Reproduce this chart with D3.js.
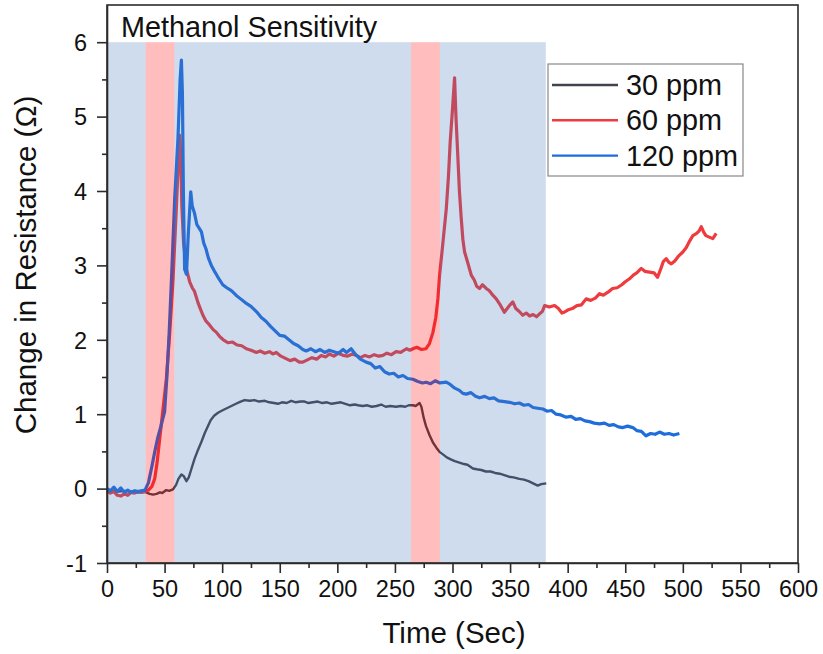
<!DOCTYPE html>
<html>
<head>
<meta charset="utf-8">
<script src="https://cdn.jsdelivr.net/npm/d3@7"></script>
<style>
  body { margin: 0; background: #fff; }
  svg text { font-family: Arial, "Liberation Sans", sans-serif; fill: #111; }
</style>
</head>
<body>
<svg id="chart" width="823" height="654"></svg>
<script>
// data: [time (s), change in resistance (ohm)]
const ppm30 = [[0,-0.02],[5,-0.03],[10,-0.04],[15,-0.03],[20,-0.04],[25,-0.03],[30,-0.03],[34,-0.05],[37,-0.07],[40,-0.08],[43,-0.07],[46,-0.05],[48,-0.06],[51.5,-0.02],[54,-0.03],[57.3,-0.01],[60,0.05],[62,0.13],[64.6,0.19],[66.5,0.17],[69,0.10],[71,0.15],[73,0.25],[76,0.40],[79,0.52],[82,0.63],[85,0.75],[87.7,0.84],[90,0.92],[93,0.98],[96.4,1.02],[100,1.05],[104,1.08],[108,1.11],[112,1.14],[116,1.17],[119.5,1.19],[124,1.18],[128,1.19],[132,1.17],[137,1.18],[141,1.16],[145,1.15],[148.4,1.14],[152,1.16],[156,1.15],[160,1.18],[164,1.16],[168,1.17],[171.6,1.17],[175,1.15],[178.8,1.16],[183,1.17],[187,1.15],[191,1.16],[195,1.14],[199,1.15],[203,1.16],[207,1.14],[211,1.12],[215,1.13],[218,1.12],[222,1.11],[226,1.12],[230,1.10],[234,1.11],[238,1.13],[242,1.10],[246,1.11],[251,1.10],[255,1.11],[259,1.10],[262,1.12],[265.6,1.12],[268,1.11],[271.4,1.15],[273,1.10],[275,0.95],[277,0.84],[280,0.72],[283,0.62],[286,0.55],[289,0.49],[291.7,0.46],[295,0.42],[299,0.39],[302,0.37],[306,0.35],[310,0.33],[313,0.32],[317.7,0.27],[321,0.26],[325,0.25],[329,0.23],[333,0.23],[337,0.21],[341,0.20],[345,0.18],[349,0.16],[353,0.15],[358,0.13],[362,0.12],[366,0.10],[370,0.07],[374,0.04],[377,0.06],[381.4,0.07]];

const ppm60 = [[0,-0.03],[3,-0.06],[6,-0.04],[9,-0.09],[12,-0.10],[15,-0.07],[18,-0.09],[21,-0.05],[24,-0.06],[27,-0.04],[30,-0.05],[33,-0.04],[36,-0.02],[39,0.03],[41.4,0.13],[43.5,0.35],[45.7,0.66],[48.5,1.05],[51.5,1.47],[54.5,2.1],[57.3,2.8],[60,3.7],[62,4.4],[63,4.75],[64,4.5],[65,3.8],[66.5,3.3],[69,2.95],[71.8,2.78],[74,2.7],[76,2.65],[79,2.5],[81,2.42],[83.3,2.33],[86,2.25],[89,2.2],[92,2.14],[95,2.10],[98,2.04],[101,2.0],[105,1.96],[109,1.97],[113,1.93],[117,1.92],[121,1.88],[125,1.86],[129.7,1.83],[133,1.85],[137,1.82],[141,1.84],[144,1.81],[147,1.83],[151,1.78],[155,1.75],[159,1.72],[163,1.74],[167,1.70],[170,1.70],[174,1.73],[178,1.76],[182,1.74],[186,1.79],[190,1.77],[193,1.81],[197,1.78],[201,1.82],[205,1.79],[209,1.78],[213,1.81],[216.5,1.79],[220,1.76],[224,1.79],[228,1.77],[232,1.80],[236,1.78],[239.6,1.79],[243,1.82],[247,1.80],[251,1.84],[255,1.83],[260,1.88],[263,1.86],[265.6,1.88],[269,1.90],[273,1.87],[277,1.88],[280,1.95],[283,2.10],[285.5,2.3],[287.3,2.55],[288.8,2.87],[291,3.2],[294.6,3.76],[296.5,4.2],[298,4.66],[300,5.1],[301.8,5.52],[303,5.0],[304.7,4.44],[306,4.0],[307.6,3.63],[309,3.35],[310.5,3.18],[313,3.05],[316.3,2.87],[319,2.8],[321,2.72],[323.5,2.69],[326,2.74],[329.3,2.69],[332,2.66],[335,2.60],[338,2.55],[341,2.48],[345,2.37],[348,2.43],[350,2.47],[352.4,2.51],[355,2.42],[358,2.38],[361,2.33],[364,2.36],[367,2.32],[370,2.34],[373,2.31],[375.6,2.35],[378,2.38],[380,2.46],[384,2.44],[388.6,2.46],[392,2.42],[395,2.36],[397,2.37],[400,2.40],[404,2.42],[408,2.46],[412,2.47],[416,2.55],[420,2.53],[424,2.56],[427.7,2.62],[431,2.60],[435,2.64],[439,2.69],[443,2.70],[447,2.74],[450,2.78],[453.7,2.82],[457,2.87],[460,2.90],[463.9,2.96],[467,2.92],[471,2.91],[475,2.90],[478,2.84],[481,2.96],[483,3.05],[485.6,3.09],[488,3.04],[490,3.02],[493,3.06],[496,3.12],[500,3.18],[503,3.24],[506,3.33],[508.7,3.40],[512,3.43],[514,3.46],[516,3.52],[518,3.45],[520,3.40],[523,3.38],[526,3.36],[529,3.43]];

const ppm120 = [[0,0.00],[3,-0.03],[6,0.02],[9,-0.04],[12,0.01],[15,-0.05],[18,-0.02],[21,-0.05],[24,-0.03],[27,-0.05],[30,-0.03],[33,-0.02],[36,0.08],[39,0.30],[41.4,0.49],[44,0.68],[47,0.85],[50,1.03],[52,1.5],[54,2.1],[56,2.82],[58.8,3.9],[61.6,4.7],[63.5,5.5],[64.6,5.76],[65.5,5.3],[66.3,4.0],[67.4,2.95],[69,2.88],[70.5,3.4],[72.7,3.99],[74,3.8],[76,3.7],[78,3.55],[80,3.5],[82,3.45],[84,3.3],[86,3.22],[88,3.1],[90.6,3.0],[93,2.93],[96,2.85],[98,2.8],[100.5,2.74],[104,2.7],[108,2.66],[112,2.6],[116,2.55],[120,2.5],[125,2.45],[129.7,2.38],[134,2.3],[138,2.25],[142,2.18],[146,2.12],[150,2.06],[154,2.05],[158,2.0],[162,1.95],[166,1.92],[170,1.87],[173,1.85],[177,1.88],[181,1.84],[185,1.87],[189,1.83],[193,1.86],[197,1.84],[201,1.82],[205,1.87],[208,1.83],[212,1.88],[216,1.80],[220,1.74],[225,1.70],[229,1.68],[233,1.62],[237,1.64],[241,1.57],[245,1.54],[249,1.55],[253,1.50],[257,1.52],[261,1.48],[265.6,1.47],[270,1.44],[274,1.42],[277,1.43],[281,1.41],[285,1.45],[289,1.42],[294.6,1.43],[298,1.40],[302,1.35],[306,1.32],[309,1.28],[312,1.27],[316,1.29],[320,1.24],[323.5,1.22],[328,1.24],[332,1.21],[336,1.22],[340,1.18],[345,1.17],[349.6,1.16],[354,1.14],[358,1.15],[362,1.12],[366,1.13],[370,1.09],[374,1.08],[378.5,1.07],[382,1.04],[386,1.05],[390,1.00],[394,0.99],[398.8,0.96],[403,0.97],[407,0.93],[411,0.94],[415,0.91],[419,0.90],[423,0.88],[427.7,0.87],[432,0.88],[436,0.85],[440,0.86],[444,0.83],[448,0.82],[452,0.84],[456.6,0.82],[460,0.78],[464,0.77],[468,0.71],[472,0.74],[476,0.73],[479.8,0.76],[484,0.73],[488,0.74],[492,0.72],[497,0.74]];

const seriesNames = ['30 ppm', '60 ppm', '120 ppm'];
const seriesColors = ['#41444c', '#ee3b3f', '#1f6ddc'];

// exposure windows (pink) and recovery windows (blue)
const gasOn = [[33.5, 58.5], [264, 289]];
const airOn = [[0, 33.5], [58.5, 264], [289, 381]];

const xTicks = d3.range(0, 601, 50);
const yTicks = d3.range(-1, 7, 1);

const svg = d3.select('#chart');
const x = d3.scaleLinear().domain([0, 600]).range([107, 798]);
const y = d3.scaleLinear().domain([-1, 6.5]).range([563, 5]);

// lines first, the shading sits on top as a translucent overlay
const line = d3.line().x(d => x(d[0])).y(d => y(d[1]));
const allSeries = [ppm30, ppm60, ppm120];

svg.append('g').selectAll('path')
    .data(allSeries)
    .join('path')
    .attr('d', line)
    .attr('fill', 'none')
    .attr('stroke', (d, i) => seriesColors[i])
    .attr('stroke-width', (d, i) => i == 0 ? 2.4 : 3.2)
    .attr('stroke-linejoin', 'round');

svg.append('g').selectAll('rect')
    .data(airOn)
    .join('rect')
    .attr('x', d => x(d[0]))
    .attr('width', d => x(d[1]) - x(d[0]))
    .attr('y', y(6))
    .attr('height', y(-1) - y(6))
    .attr('fill', '#4678be')
    .attr('fill-opacity', 0.26);

svg.append('g').selectAll('rect')
    .data(gasOn)
    .join('rect')
    .attr('x', d => x(d[0]))
    .attr('width', d => x(d[1]) - x(d[0]))
    .attr('y', y(6))
    .attr('height', y(-1) - y(6))
    .attr('fill', '#ff0000')
    .attr('fill-opacity', 0.26);

// frame
svg.append('rect')
    .attr('x', 107).attr('y', 5)
    .attr('width', 798 - 107).attr('height', 563 - 5)
    .attr('fill', 'none')
    .attr('stroke', '#2b2b2b')
    .attr('stroke-width', 1.6);

// axes with minor ticks
let xAxis = svg.append('g').attr('transform', 'translate(0,563)')
    .call(d3.axisBottom(x).tickValues(xTicks).tickSize(10).tickSizeOuter(0));
svg.append('g').attr('transform', 'translate(0,563)')
    .call(d3.axisBottom(x).tickValues(d3.range(25, 600, 50)).tickSize(5).tickFormat(''))
    .call(g => g.select('.domain').remove());

let yAxis = svg.append('g').attr('transform', 'translate(107,0)')
    .call(d3.axisLeft(y).tickValues(yTicks).tickSize(10).tickSizeOuter(0).tickFormat(d => `${d}`));
svg.append('g').attr('transform', 'translate(107,0)')
    .call(d3.axisLeft(y).tickValues(d3.range(-0.5, 6, 1)).tickSize(5).tickFormat(''))
    .call(g => g.select('.domain').remove());

svg.selectAll('.domain').attr('stroke', '#2b2b2b').attr('stroke-width', 1.6);
svg.selectAll('.tick line').attr('stroke', '#2b2b2b').attr('stroke-width', 1.6);

xAxis.selectAll('text').attr('font-size', 23.5).attr('y', 17).attr('dy', '0.71em').attr('fill', '#111');
yAxis.selectAll('text').attr('font-size', 23.5).attr('x', -20).attr('dy', '0.35em').attr('fill', '#111');

// titles
svg.append('text')
    .attr('x', 454).attr('y', 643)
    .attr('text-anchor', 'middle')
    .attr('font-size', 29.5)
    .text('Time (Sec)');

svg.append('text')
    .attr('transform', 'translate(36,265) rotate(-90)')
    .attr('text-anchor', 'middle')
    .attr('font-size', 29.5)
    .text('Change in Resistance (Ω)');

svg.append('text')
    .attr('x', 121).attr('y', 37)
    .attr('font-size', 28.8)
    .text('Methanol Sensitivity');

// legend
let legend = svg.append('g');
legend.append('rect')
    .attr('x', 548).attr('y', 64)
    .attr('width', 195).attr('height', 112)
    .attr('fill', '#fff')
    .attr('stroke', '#888')
    .attr('stroke-width', 1.2);

let items = legend.selectAll('g.item')
    .data(seriesNames)
    .join('g').attr('class', 'item')
    .attr('transform', (d, i) => `translate(0,${85 + i * 35.3})`);
items.append('line')
    .attr('x1', 552).attr('x2', 618)
    .attr('stroke', (d, i) => seriesColors[i])
    .attr('stroke-width', 2.4);
items.append('text')
    .attr('x', 626).attr('dy', '0.35em')
    .attr('font-size', 28.8)
    .text(d => d);
</script>
</body>
</html>
